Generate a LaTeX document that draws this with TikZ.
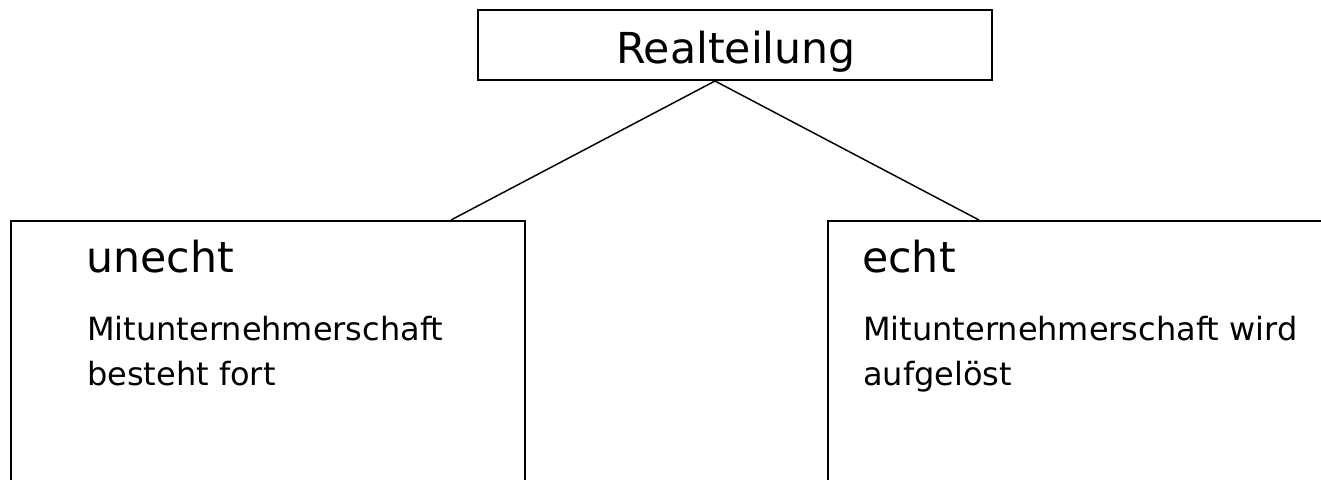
\documentclass[tikz,border=0pt]{standalone}
\usepackage{fontspec}
\setmainfont{DejaVu Sans}
\usetikzlibrary{calc}
\usetikzlibrary{positioning}

\tikzset{
  kasten/.style={draw, rectangle, line width=1.5pt, inner sep=0pt},
  verbindung/.style={line width=1.1pt},
  kopf/.style={inner sep=0pt, font=\fontsize{32}{38}\selectfont},
  inhalt/.style={inner sep=0pt, align=left, font=\fontsize{24}{33.75}\selectfont},
}

\begin{document}
\begin{tikzpicture}[x=0.75pt,y=0.75pt,yscale=-1,xscale=1]
                  \useasboundingbox (0,0) rectangle (1321,479);
                  \fill[white] (0,0) rectangle (1321,479);
                  \clip (0,0) rectangle (1321,479);

                  %Shape: Rectangle [id:real]
                  \node [kasten, minimum width=385.5pt, minimum height=52.5pt] (real) at (735,45) {};
                  %Shape: Rectangle [id:unecht] (runs past the lower edge)
                  \node [kasten, minimum width=385.5pt, minimum height=225pt] (unecht) at (268,371) {};
                  %Shape: Rectangle [id:echt] (runs past the lower and right edge)
                  \node [kasten, minimum width=385.5pt, minimum height=225pt] (echt) at (1085,371) {};

                  % Connector points
                  \coordinate (spitze) at ($(real.south)+(-20,0)$);
                  \coordinate (links) at ($(unecht.north)+(183,0)$);
                  \coordinate (rechts) at ($(echt.north)+(-106,0)$);

                  %Straight Lines
                  \draw [verbindung] (spitze) -- (links);
                  \draw [verbindung] (spitze) -- (rechts);

                  % Text Node
                  \node [kopf, anchor=base] (titel) at (736,63) {Realteilung};
                  % Text Node (base = last line)
                  \node [kopf, anchor=base west] (unechtkopf) at (86,272) {unecht};
                  \node [inhalt, anchor=base west] (unechttext) at (87,385) {Mitunternehmerschaft\\besteht fort};
                  % Text Node (base = last line)
                  \node [kopf, anchor=base west] (echtkopf) at (862,272) {echt};
                  \node [inhalt, anchor=base west] (echttext) at (863,385) {Mitunternehmerschaft wird\\aufgelöst};

              \end{tikzpicture}
\end{document}
